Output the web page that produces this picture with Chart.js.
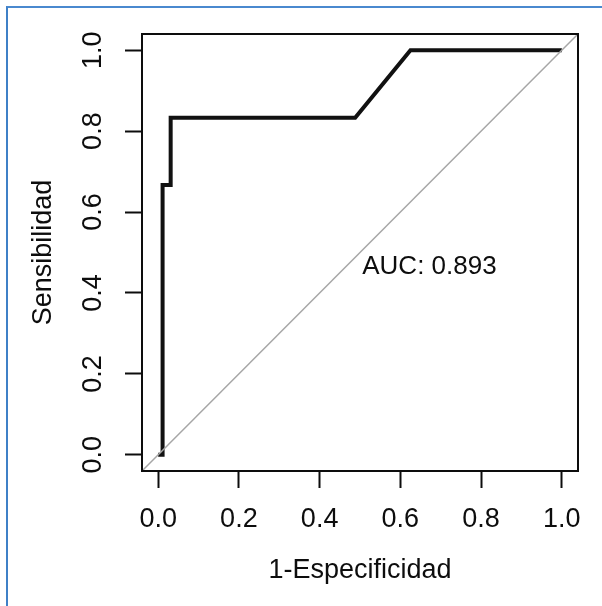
<!DOCTYPE html>
<html>
<head>
<meta charset="utf-8">
<script src="https://cdn.jsdelivr.net/npm/chart.js@4/dist/chart.umd.min.js"></script>
<style>
  html, body { margin: 0; padding: 0; background: #fff; }
  #wrap { position: relative; width: 602px; height: 606px; }
  #roc { position: absolute; left: 0; top: 0; }
  /* marco azul del recuadro */
  #marco {
    position: absolute; left: 6px; top: 6px; right: 0; bottom: 0;
    border-left: 2px solid #3f80c7; border-top: 2px solid #4a89cf;
    pointer-events: none;
  }
</style>
</head>
<body>
<div id="wrap">
  <canvas id="roc" width="602" height="606"></canvas>
  <div id="marco"></div>
</div>
<script>
// curva ROC (1-especificidad, sensibilidad)
const fpr = [0, 0.011, 0.011, 0.031, 0.031, 0.488, 0.625, 1.0];
const tpr = [0, 0, 0.667, 0.667, 0.833, 0.833, 1.0, 1.0];
// diagonal de referencia, recorre todo el rango de los ejes
const diagX = [-0.04, 1.04];
const diagY = [-0.04, 1.04];
const tickValues = [0, 0.2, 0.4, 0.6, 0.8, 1.0];
const aucText = "AUC: 0.893";
const aucPos = [0.672, 0.465];

const FONT = "'Liberation Sans', Arial, sans-serif";
const INK = "#0d0d0d";

const toPoints = (xs, ys) => xs.map((x, i) => ({ x: x, y: ys[i] }));

// caja alrededor del área de trazado y texto del AUC
const extras = {
  id: "extras",
  afterDraw(chart) {
    const { ctx, chartArea: a, scales } = chart;
    ctx.save();
    ctx.strokeStyle = INK;
    ctx.lineWidth = 2;
    ctx.strokeRect(a.left, a.top, a.right - a.left, a.bottom - a.top);
    ctx.fillStyle = INK;
    ctx.font = "26px " + FONT;
    ctx.textAlign = "center";
    ctx.textBaseline = "middle";
    ctx.fillText(aucText, scales.x.getPixelForValue(aucPos[0]), scales.y.getPixelForValue(aucPos[1]));
    ctx.restore();
  }
};

const fixedTicks = (scale) => {
  scale.ticks = tickValues.map(v => ({ value: v }));
};

new Chart(document.getElementById("roc"), {
  type: "scatter",
  data: {
    datasets: [
      {
        data: toPoints(diagX, diagY),
        showLine: true,
        borderColor: "#a6a6a6",
        borderWidth: 1.5,
        pointRadius: 0
      },
      {
        data: toPoints(fpr, tpr),
        showLine: true,
        borderColor: "#111",
        borderWidth: 4,
        borderJoinStyle: "miter",
        pointRadius: 0
      }
    ]
  },
  options: {
    responsive: false,
    animation: false,
    devicePixelRatio: 1,
    clip: false,
    layout: { padding: { left: 0, top: 34, right: 24, bottom: 0 } },
    plugins: { legend: { display: false }, tooltip: { enabled: false } },
    scales: {
      x: {
        type: "linear",
        min: -0.04,
        max: 1.04,
        afterBuildTicks: fixedTicks,
        afterFit: (s) => { s.height = 135; },
        border: { display: false },
        grid: { drawOnChartArea: false, drawTicks: true, tickLength: 17, tickWidth: 2, tickColor: INK },
        ticks: {
          color: INK, font: { family: FONT, size: 27 }, padding: 15,
          maxRotation: 0, minRotation: 0,
          callback: (v) => Number(v).toFixed(1)
        },
        title: {
          display: true, text: "1-Especificidad", color: INK,
          font: { family: FONT, size: 27 }, padding: { top: 0, bottom: 19 }
        }
      },
      y: {
        type: "linear",
        min: -0.04,
        max: 1.04,
        afterBuildTicks: fixedTicks,
        afterFit: (s) => { s.width = 142; },
        border: { display: false },
        grid: { drawOnChartArea: false, drawTicks: true, tickLength: 17, tickWidth: 2, tickColor: INK },
        ticks: {
          color: INK, font: { family: FONT, size: 27 }, padding: 13,
          minRotation: 90, maxRotation: 90, crossAlign: "center",
          callback: (v) => Number(v).toFixed(1)
        },
        title: {
          display: true, text: "Sensibilidad", color: INK,
          font: { family: FONT, size: 27 }, padding: { top: 27, bottom: 0 }
        }
      }
    }
  },
  plugins: [extras]
});
</script>
</body>
</html>
